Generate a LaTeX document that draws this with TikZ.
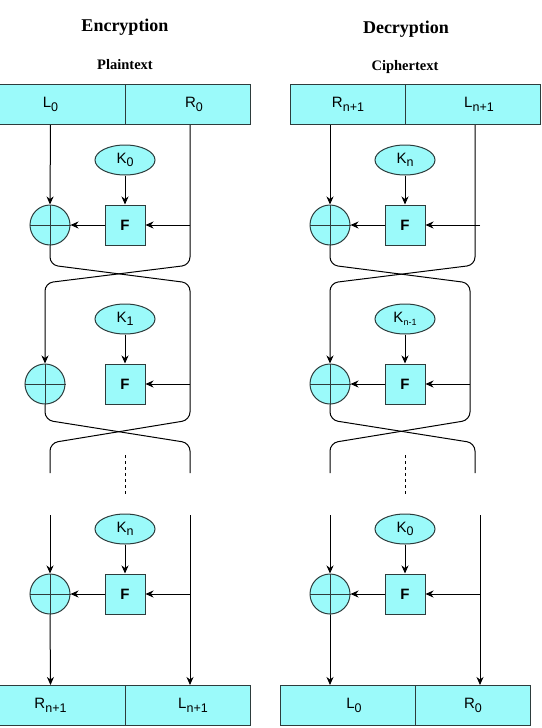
\documentclass[tikz,border=0pt]{standalone}
\usepackage{fontspec}
\setmainfont{Liberation Serif}
\setsansfont{Liberation Sans}
\usetikzlibrary{arrows.meta,positioning,shapes.geometric}
\tikzset{every picture/.style={
  >={Stealth[length=8pt,width=7pt,inset=2.5pt]}   % Filled arrow heads.
  }
}
\definecolor{cellfill}{RGB}{155,250,250}
\definecolor{celledge}{RGB}{45,60,60}
\newcommand{\low}[2][12.5]{\raisebox{-3.5pt}{\fontsize{#1}{#1}\selectfont #2}}

\begin{document}
\begin{tikzpicture}[x=1pt,y=-1pt,line width=1pt,
  every node/.style={font=\sffamily\fontsize{15}{18}\selectfont},
  title/.style={anchor=base,font=\rmfamily\bfseries\fontsize{18}{20}\selectfont},
  subtitle/.style={anchor=base,font=\rmfamily\bfseries\fontsize{14.5}{16}\selectfont},
  half/.style={draw=celledge,fill=cellfill,minimum height=40pt,inner sep=0pt,anchor=north west},
  key/.style={ellipse,draw=celledge,fill=cellfill,minimum width=60pt,minimum height=30pt,inner sep=0pt},
  fbox/.style={draw=celledge,fill=cellfill,minimum size=40pt,inner sep=0pt,
    font=\sffamily\bfseries\fontsize{15}{18}\selectfont},
  xor/.style={circle,draw=celledge,fill=cellfill,minimum size=40pt,inner sep=0pt},
  twist/.style={rounded corners=8pt},
  dots/.style={line width=0.6pt,dash pattern=on 3pt off 3pt}]
  \useasboundingbox (0,0) rectangle (541,728);

  % Encryption
  \node[title] (etitle) at (125,31) {Encryption};
  \node[subtitle] (ptext) at (125,69) {Plaintext};
  \node[half,minimum width=150pt] (pl) at (-25,84) {L\low{0}};
  \node[half,minimum width=125pt] (pr) at (125,84) {\hspace{12pt}R\low{0}};

  \node[key] (ek1) at (125,160) {K\low{0}};
  \node[fbox] (ef1) at (125,225) {F};
  \node[xor] (ex1) at (50,225) {};
  \node[key] (ek2) at (125,319) {K\low{1}};
  \node[fbox] (ef2) at (125,384) {F};
  \node[xor] (ex2) at (45,384) {};
  \node[key] (ek3) at (125,529) {K\low{n}};
  \node[fbox] (ef3) at (125,594) {F};
  \node[xor] (ex3) at (50,594) {};

  \node[half,minimum width=150pt] (cl) at (-25,685) {R\low{n+1}};
  \node[half,minimum width=125pt] (cr) at (125,685) {\hspace{10pt}L\low{n+1}};

  \coordinate (ea1) at (190,225);
  \coordinate (ea2) at (190,384);
  \coordinate (ee1) at (50,473);
  \coordinate (ee2) at (190,473);
  \coordinate (es1) at (50,515);
  \coordinate (es2) at (190,515);
  \coordinate (edt) at (125,455);

  \draw[->] (pl.south) -- (ex1.north);
  \draw[->] (ek1) -- (ef1);
  \draw[->] (ea1) -- (ef1.east);
  \draw[->] (ef1.west) -- (ex1.east);
  \draw[twist,->] (pr.south -| ea1) -- (190,265) -- (45,283) -- (ex2.north);
  \draw[twist] (ex1.south) -- (50,265) -- (190,283) -- (190,420) -- (50,443) -- (ee1);
  \draw[->] (ek2) -- (ef2);
  \draw[->] (ea2) -- (ef2.east);
  \draw[twist] (ex2.south) -- (45,420) -- (190,443) -- (ee2);
  \draw[dots] (edt) -- ++(0,40);
  \draw[->] (es1) -- (ex3.north);
  \draw[->] (ek3) -- (ef3);
  \draw[->] (es2 |- ef3) -- (ef3.east);
  \draw[->] (ef3.west) -- (ex3.east);
  \draw[->] (ex3.south) -- (cl.north);
  \draw[->] (es2) -- (es2 |- cr.north);

  % Decryption
  \node[title] (dtitle) at (406,33) {Decryption};
  \node[subtitle] (ctext) at (405,70) {Ciphertext};
  \node[half,minimum width=115pt] (dl) at (290,84) {R\low{n+1}};
  \node[half,minimum width=135pt] (dr) at (405,84) {\hspace{12pt}L\low{n+1}};

  \node[key] (dk1) at (405,160) {K\low{n}};
  \node[fbox] (df1) at (405,225) {F};
  \node[xor] (dx1) at (330,225) {};
  \node[key] (dk2) at (405,319) {K\low[9]{n-1}};
  \node[fbox] (df2) at (405,384) {F};
  \node[xor] (dx2) at (330,384) {};
  \node[key] (dk3) at (405,529) {K\low{0}};
  \node[fbox] (df3) at (405,594) {F};
  \node[xor] (dx3) at (330,594) {};

  \node[half,minimum width=135pt] (ol) at (280,685) {\hspace{12pt}L\low{0}};
  \node[half,minimum width=115pt] (or) at (415,685) {R\low{0}};

  \coordinate (da1) at (480,225);
  \coordinate (da2) at (470,384);
  \coordinate (de1) at (330,473);
  \coordinate (de2) at (475,473);
  \coordinate (ds1) at (330,515);
  \coordinate (ds2) at (480,515);
  \coordinate (ddt) at (405,455);

  \draw[->] (dl.south -| dx1) -- (dx1.north);
  \draw[->] (dk1) -- (df1);
  \draw[->] (da1) -- (df1.east);
  \draw[->] (df1.west) -- (dx1.east);
  \draw[twist,->] (dr.south -| de2) -- (475,265) -- (330,283) -- (dx2.north);
  \draw[twist] (dx1.south) -- (330,265) -- (470,283) -- (470,420) -- (330,443) -- (de1);
  \draw[->] (dk2) -- (df2);
  \draw[->] (da2) -- (df2.east);
  \draw[->] (df2.west) -- (dx2.east);
  \draw[twist] (dx2.south) -- (330,420) -- (475,443) -- (de2);
  \draw[dots] (ddt) -- ++(0,40);
  \draw[->] (ds1) -- (dx3.north);
  \draw[->] (dk3) -- (df3);
  \draw[->] (ds2 |- df3) -- (df3.east);
  \draw[->] (df3.west) -- (dx3.east);
  \draw[->] (dx3.south) -- (dx3.south |- ol.north);
  \draw[->] (ds2) -- (ds2 |- or.north);

  % crosses in the adders
  \foreach \x in {ex1,ex2,ex3,dx1,dx2,dx3}
    \draw[celledge] (\x.north) -- (\x.south) (\x.west) -- (\x.east);
\end{tikzpicture}
\end{document}
